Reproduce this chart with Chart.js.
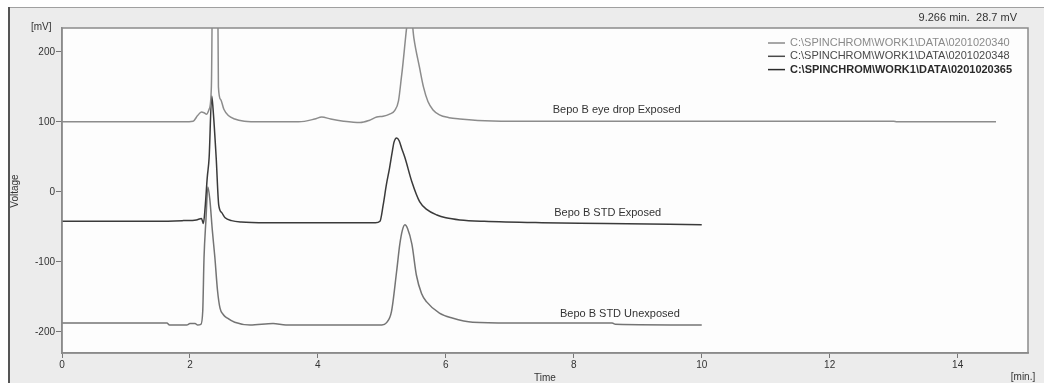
<!DOCTYPE html>
<html>
<head>
<meta charset="utf-8">
<script src="https://cdn.jsdelivr.net/npm/chart.js@4"></script>
<style>
  html, body { margin: 0; padding: 0; background: #ffffff; }
  #wrap { width: 1044px; height: 383px; position: relative; }
</style>
</head>
<body>
<div id="wrap"><canvas id="chromCanvas"></canvas></div>
<script>
// chromatogram traces (time in min, signal in mV)
const eyeDropTimes = [0, 1.9, 2.05, 2.12, 2.18, 2.22, 2.26, 2.30, 2.335, 2.39, 2.445, 2.48, 2.53, 2.6, 2.7, 2.85, 3.1, 3.7, 3.95, 4.06, 4.2, 4.4, 4.66, 4.8, 4.92, 5.02, 5.12, 5.2, 5.26, 5.31, 5.445, 5.5, 5.59, 5.65, 5.72, 5.8, 5.9, 6.05, 6.22, 6.5, 7, 13, 13.05, 14.6];
const eyeDropValues = [100, 100, 101, 109, 114, 113, 111, 118, 150, 820, 150, 132, 118, 109, 104, 101, 100, 100, 104, 107, 104, 101, 99, 102, 107, 108, 111, 116, 130, 167, 262, 220, 177, 150, 129, 117, 110, 106, 104, 102, 101, 101, 100, 100];

const stdExpTimes = [0, 1.5, 1.9, 2.1, 2.18, 2.21, 2.24, 2.27, 2.30, 2.34, 2.36, 2.41, 2.45, 2.5, 2.55, 2.65, 2.8, 3.2, 4.0, 4.9, 4.97, 5.02, 5.07, 5.12, 5.16, 5.19, 5.23, 5.27, 5.31, 5.36, 5.47, 5.59, 5.7, 5.86, 6.0, 6.22, 6.6, 7.5, 8.5, 10];
const stdExpValues = [-42, -42, -41, -40, -38, -45, -19, 20, 49, 137, 120, 49, -19, -30, -37, -41, -43, -44, -44, -44, -42, -19, 10, 34, 56, 71, 77, 73, 62, 49, 14, -14, -25, -33, -37, -40, -42, -44, -45, -47];

const stdUnexpTimes = [0, 1.64, 1.68, 1.95, 2.0, 2.08, 2.12, 2.17, 2.2, 2.22, 2.25, 2.28, 2.31, 2.35, 2.39, 2.43, 2.47, 2.52, 2.58, 2.7, 2.94, 3.3, 3.5, 5.0, 5.07, 5.15, 5.23, 5.28, 5.32, 5.36, 5.40, 5.47, 5.54, 5.62, 5.7, 5.9, 6.1, 6.42, 7, 8.6, 8.65, 10];
const stdUnexpValues = [-187, -187, -190, -190, -188, -188, -190, -189, -170, -94, -40, 7, -10, -55, -94, -140, -166, -175, -180, -186, -190, -188, -190, -190, -187, -171, -114, -75, -55, -47, -52, -75, -119, -145, -157, -173, -180, -186, -187, -187, -189, -190];

const legendLabels = ['C:\\SPINCHROM\\WORK1\\DATA\\0201020340', 'C:\\SPINCHROM\\WORK1\\DATA\\0201020348', 'C:\\SPINCHROM\\WORK1\\DATA\\0201020365'];
const traceColors = ['#8c8c8c', '#3a3a3a', '#747474'];
const legendColors = ['#8a8a8a', '#4a4a4a', '#2a2a2a'];

// labels written next to each trace, placed in data units
const noteTexts = ['Bepo B eye drop Exposed', 'Bepo B STD Exposed', 'Bepo B STD Unexposed'];
const noteTimes = [8.67, 8.53, 8.72];
const noteValues = [117, -30, -174];

const xTickValues = [0, 2, 4, 6, 8, 10, 12, 14];
const yTickValues = [-200, -100, 0, 100, 200];

const cursorText = '9.266 min.  28.7 mV';

const FONT = 'Arial, "Liberation Sans", sans-serif';

function toPoints(times, values) {
  return times.map((t, i) => ({ x: t, y: values[i] }));
}

// grey panel, white plot area, frame lines
const panelPlugin = {
  id: 'panel',
  beforeDraw(chart) {
    const ctx = chart.ctx;
    const a = chart.chartArea;
    ctx.save();
    ctx.fillStyle = '#ffffff';
    ctx.fillRect(0, 0, chart.width, chart.height);
    ctx.fillStyle = '#ececec';
    ctx.fillRect(8, 7, chart.width - 8, chart.height - 7);
    ctx.strokeStyle = '#a0a0a0';
    ctx.lineWidth = 1;
    ctx.beginPath();
    ctx.moveTo(8, 7.5);
    ctx.lineTo(chart.width, 7.5);
    ctx.stroke();
    ctx.strokeStyle = '#555555';
    ctx.lineWidth = 2;
    ctx.beginPath();
    ctx.moveTo(9, 7);
    ctx.lineTo(9, chart.height);
    ctx.stroke();
    ctx.fillStyle = '#fdfdfd';
    ctx.fillRect(a.left, a.top, a.right - a.left, a.bottom - a.top);
    ctx.restore();
  },
  afterDatasetsDraw(chart) {
    const ctx = chart.ctx;
    const a = chart.chartArea;
    ctx.save();
    ctx.strokeStyle = '#8a8a8a';
    ctx.lineWidth = 1.5;
    ctx.strokeRect(a.left, a.top, a.right - a.left, a.bottom - a.top);
    ctx.restore();
  }
};

// axis captions, cursor readout, legend and trace notes
const textPlugin = {
  id: 'texts',
  afterDraw(chart) {
    const ctx = chart.ctx;
    const a = chart.chartArea;
    const xs = chart.scales.x;
    const ys = chart.scales.y;
    ctx.save();
    ctx.fillStyle = '#333333';
    ctx.font = '10px ' + FONT;
    ctx.textBaseline = 'middle';

    ctx.textAlign = 'left';
    ctx.fillText('[mV]', 31, 27);
    ctx.textAlign = 'center';
    ctx.fillText('Time', (a.left + a.right) / 2, 378);
    ctx.fillText('[min.]', 1023, 377);

    ctx.save();
    ctx.translate(15, 191);
    ctx.rotate(-Math.PI / 2);
    ctx.fillText('Voltage', 0, 0);
    ctx.restore();

    ctx.font = '11px ' + FONT;
    ctx.textAlign = 'right';
    ctx.fillText(cursorText, 1017, 18);

    // legend
    ctx.textAlign = 'left';
    legendLabels.forEach((lbl, i) => {
      const y = 43 + i * 13.3;
      ctx.strokeStyle = legendColors[i];
      ctx.lineWidth = 1.5;
      ctx.beginPath();
      ctx.moveTo(768, y);
      ctx.lineTo(785, y);
      ctx.stroke();
      ctx.fillStyle = legendColors[i];
      ctx.font = (i === 2 ? 'bold ' : '') + '11px ' + FONT;
      ctx.fillText(lbl, 790, y);
    });

    // trace notes
    ctx.fillStyle = '#333333';
    ctx.font = '11px ' + FONT;
    ctx.textAlign = 'center';
    noteTexts.forEach((txt, i) => {
      ctx.fillText(txt, xs.getPixelForValue(noteTimes[i]), ys.getPixelForValue(noteValues[i]));
    });
    ctx.restore();
  }
};

const series = [
  toPoints(eyeDropTimes, eyeDropValues),
  toPoints(stdExpTimes, stdExpValues),
  toPoints(stdUnexpTimes, stdUnexpValues)
];

new Chart(document.getElementById('chromCanvas'), {
  type: 'line',
  data: {
    datasets: series.map((pts, i) => ({
      label: legendLabels[i],
      data: pts,
      borderColor: traceColors[i],
      borderWidth: 1.5,
      pointRadius: 0,
      cubicInterpolationMode: 'monotone',
      fill: false
    }))
  },
  options: {
    responsive: true,
    maintainAspectRatio: false,
    animation: false,
    layout: { padding: { left: 22, top: 28, right: 16, bottom: 10 } },
    plugins: {
      legend: { display: false },
      tooltip: { enabled: false }
    },
    scales: {
      x: {
        type: 'linear',
        min: 0,
        max: 15.1,
        afterFit(scale) { scale.height = 20; },
        afterBuildTicks(scale) { scale.ticks = xTickValues.map(v => ({ value: v })); },
        ticks: { color: '#333333', font: { family: FONT, size: 10 }, padding: 1, maxRotation: 0 },
        grid: { drawOnChartArea: false, drawTicks: true, tickLength: 5, color: '#777777' },
        border: { color: '#8a8a8a', width: 1.5 }
      },
      y: {
        type: 'linear',
        min: -230,
        max: 234,
        afterFit(scale) { scale.width = 40; },
        afterBuildTicks(scale) { scale.ticks = yTickValues.map(v => ({ value: v })); },
        ticks: { color: '#333333', font: { family: FONT, size: 10 }, padding: 1 },
        grid: { drawOnChartArea: false, drawTicks: true, tickLength: 6, color: '#777777' },
        border: { color: '#8a8a8a', width: 1.5 }
      }
    }
  },
  plugins: [panelPlugin, textPlugin]
});
</script>
</body>
</html>
